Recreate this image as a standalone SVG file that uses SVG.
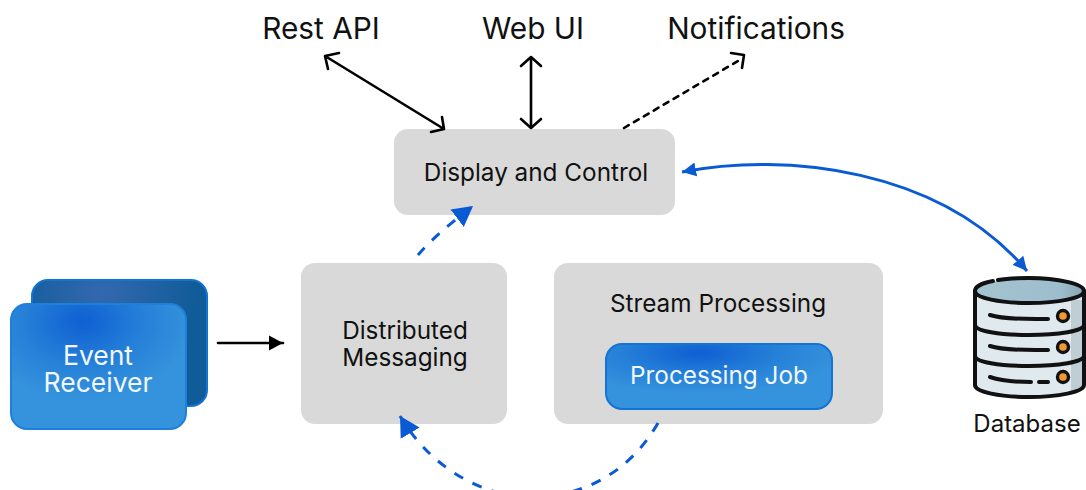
<svg xmlns="http://www.w3.org/2000/svg" width="1086" height="490" viewBox="0 0 1086 490">
<style>
text{font-family:Inter,"Liberation Sans",sans-serif;text-anchor:middle}
.t{font-size:29.8px;fill:#111}
.g{fill:#d9d9d9}
.l{font-size:24.3px;fill:#111}
.w{fill:#f2f7fc}
.k{fill:none;stroke:#000;stroke-width:2.6;stroke-linecap:round;stroke-linejoin:round}
.b{fill:none;stroke:#0a5ad4;stroke-width:3}
.d{stroke-dasharray:10 10.5}
.db{fill:none;stroke:#111;stroke-width:4;stroke-linecap:round}
.o{fill:#f39a2d;stroke:#111;stroke-width:3.4}
</style>
<defs>
<radialGradient id="grad" gradientUnits="objectBoundingBox" cx="0.41" cy="0.14" r="0.62">
<stop offset="0" stop-color="#0f5fd2"/><stop offset="0.55" stop-color="#2580d8"/><stop offset="1" stop-color="#3592dc"/>
</radialGradient>
<radialGradient id="grad2" cx="0.4" cy="0.1" r="0.55">
<stop offset="0" stop-color="#3468b0"/><stop offset="1" stop-color="#105c98"/>
</radialGradient>
<linearGradient id="top" x1="0" x2="1" y1="0" y2="0"><stop offset="0" stop-color="#a4c4d2"/><stop offset="0.8" stop-color="#9dbdcc"/><stop offset="1" stop-color="#86a6b6"/></linearGradient>
<marker id="ab" markerUnits="userSpaceOnUse" markerWidth="26" markerHeight="26" refX="20" refY="13" orient="auto-start-reverse"><path d="M0 2L20 13L0 24Z" fill="#0a5ad4"/></marker>
<marker id="as" markerUnits="userSpaceOnUse" markerWidth="18" markerHeight="18" refX="14" refY="9" orient="auto-start-reverse"><path d="M0 2L14 9L0 16Z" fill="#0a5ad4"/></marker>
<marker id="ak" markerUnits="userSpaceOnUse" markerWidth="20" markerHeight="20" refX="14" refY="10" orient="auto-start-reverse"><path d="M0 2.5L14 10L0 17.5Z" fill="#000"/></marker>
</defs>

<g id="label-rest"><text class="t" x="321" y="39">Rest API</text></g>
<g id="label-web"><text class="t" x="533" y="39">Web UI</text></g>
<g id="label-notifications"><text class="t" x="756" y="39">Notifications</text></g>

<g id="display"><rect class="g" x="394" y="129" width="281" height="86" rx="14"/><text class="l" x="536" y="181">Display and Control</text></g>
<g id="messaging"><rect class="g" x="301" y="263" width="206" height="161" rx="14"/><text class="l" x="405" y="339">Distributed</text><text class="l" x="405" y="366">Messaging</text></g>
<g id="stream"><rect class="g" x="554" y="263" width="329" height="161" rx="14"/><text class="l" x="718" y="312">Stream Processing</text>
<g id="job"><rect x="606" y="344" width="226" height="65" rx="16" fill="url(#grad)" stroke="#1274d6" stroke-width="2"/><text class="l w" x="719" y="384">Processing Job</text></g></g>
<g id="receiver">
<rect x="32" y="280" width="175" height="126" rx="16" fill="url(#grad2)" stroke="#1274d6" stroke-width="2"/>
<rect x="11" y="304" width="175" height="125" rx="16" fill="url(#grad)" stroke="#1f80dc" stroke-width="2"/>
<text class="w" font-size="26.5" x="98" y="365">Event</text><text class="w" font-size="26.5" x="98" y="392">Receiver</text>
</g>

<g id="database">
<path d="M975 292V385C975 392 1000 397 1029 397C1058 397 1084 392 1084 385V292Z" fill="#dfe9ee"/>
<path d="M1071 300H1084V385C1084 388 1078 392 1071 393Z" fill="#bfcdd4"/>
<ellipse cx="1029" cy="291" rx="54" ry="12.5" fill="url(#top)"/>
<path class="db" d="M993 281C982 283 975 287 975 291C975 298 1000 303 1029 303C1058 303 1084 298 1084 291C1084 284 1058 278 1029 278C1018 278 1008 278 998 280"/>
<path class="db" d="M975 291V385C975 392 1000 397 1029 397C1058 397 1084 392 1084 385V291"/>
<path class="db" d="M975 325C975 331 1000 335 1029 335C1058 335 1084 331 1084 325"/>
<path class="db" d="M975 356C975 362 1000 366 1029 366C1058 366 1084 362 1084 356"/>
<path class="db" d="M990 315C1005 320 1030 319 1048 319"/>
<path class="db" d="M990 346C1005 351 1030 350 1048 350"/>
<path class="db" d="M990 377C1002 381 1020 382 1031 382M1039 382H1048"/>
<circle class="o" cx="1063" cy="316" r="5.5"/><circle class="o" cx="1063" cy="347" r="5.5"/><circle class="o" cx="1063" cy="377" r="5.5"/>
<text font-size="24" fill="#111" x="1027" y="432">Database</text>
</g>

<g id="connectors">
<path class="k" d="M325 56L444 129M339 53L325 56L328 69M431 132L444 129L442 117"/>
<path class="k" d="M531 57V128M521 66L531 57L541 66M521 119L531 128L541 119"/>
<path class="k" stroke-width="3" stroke-linecap="butt" stroke-dasharray="5.5 6" d="M624 128L738 61"/>
<path class="k" d="M731 53L744 55L742 68"/>
<path class="k" d="M218 343H283" marker-end="url(#ak)"/>
<path class="b" marker-start="url(#as)" marker-end="url(#as)" d="M682 172C785 152 940 168 1027 271"/>
<path class="b d" marker-end="url(#ab)" d="M418 255Q435 235 473 206"/>
<path class="b d" marker-end="url(#ab)" d="M658 423C628 475 580 497 532 497C485 497 432 470 400 416"/>
</g>
</svg>
